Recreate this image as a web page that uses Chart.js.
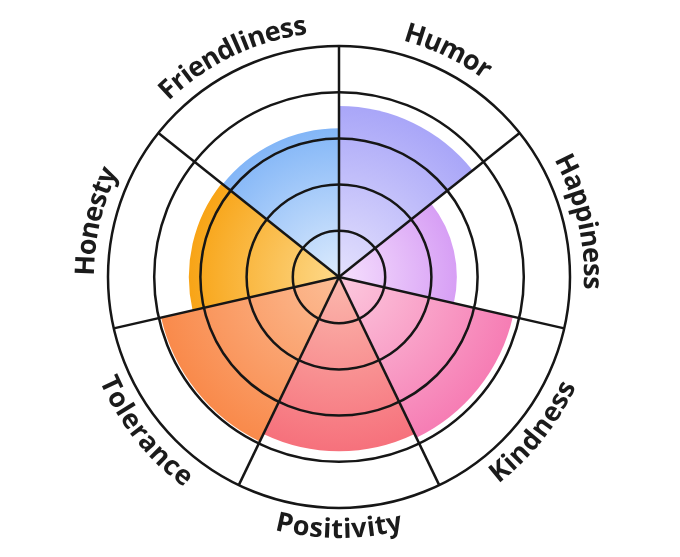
<!DOCTYPE html>
<html>
<head>
<meta charset="utf-8">
<script src="https://cdn.jsdelivr.net/npm/chart.js@4/dist/chart.umd.min.js"></script>
<style>
  html, body { margin: 0; padding: 0; background: #fff; }
  canvas { display: block; }
</style>
</head>
<body>
<canvas id="wheel" width="680" height="557"></canvas>
<script>
// qualities, clockwise from the top
const traits = ['Humor', 'Happiness', 'Kindness', 'Positivity', 'Tolerance', 'Honesty', 'Friendliness'];
const scores = [3.7, 2.55, 3.86, 3.77, 3.95, 3.25, 3.22];
const ringSteps = [1, 2, 3, 4, 5];

// outer (edge) and inner (center) colour of each wedge
const edgeColors = ['#a9a6f8', '#d79ff5', '#f67db4', '#f6717c', '#f98a4b', '#f8a416', '#83b6f7'];
const coreColors = ['#e4e1fd', '#f6e0fd', '#fcc9de', '#fbb8ad', '#fcbd96', '#fdd98a', '#dcebfd'];

function wedgeFill(c) {
    const chart = c.chart;
    const s = chart.scales.r;
    const i = c.dataIndex;
    if (!s || c.type !== 'data' || !isFinite(s.xCenter) || !isFinite(s.yCenter)) return edgeColors[i];
    const rad = s.getDistanceFromCenterForValue(scores[i]);
    if (!isFinite(rad) || rad <= 0) return edgeColors[i];
    const g = chart.ctx.createRadialGradient(s.xCenter, s.yCenter, 0, s.xCenter, s.yCenter, rad);
    g.addColorStop(0, coreColors[i]);
    g.addColorStop(1, edgeColors[i]);
    return g;
}

// labels bent along the outer ring
const curvedLabels = {
    id: 'curvedLabels',
    afterDraw(chart) {
        const s = chart.scales.r;
        const ctx = chart.ctx;
        const n = chart.data.labels.length;
        const outer = s.drawingArea;
        ctx.save();
        ctx.font = 'bold 27px "Open Sans"';
        ctx.fillStyle = '#1b1b1b';
        ctx.textAlign = 'center';
        ctx.textBaseline = 'alphabetic';
        chart.data.labels.forEach((text, i) => {
            const mid = s.getIndexAngle(i) - Math.PI / 2 + Math.PI / n;
            const flip = Math.sin(mid) > 0.05;
            const baseR = flip ? outer + 30 : outer + 14;
            const advR = flip ? baseR - 10 : baseR + 10;
            const chars = [...text];
            const widths = chars.map(ch => ctx.measureText(ch).width);
            const total = widths.reduce((a, b) => a + b, 0);
            const dir = flip ? -1 : 1;
            let a = mid - dir * total / 2 / advR;
            chars.forEach((ch, k) => {
                const ca = a + dir * widths[k] / 2 / advR;
                ctx.save();
                ctx.translate(s.xCenter + baseR * Math.cos(ca), s.yCenter + baseR * Math.sin(ca));
                ctx.rotate(ca + dir * Math.PI / 2);
                ctx.fillText(ch, 0, 0);
                ctx.restore();
                a += dir * widths[k] / advR;
            });
        });
        ctx.restore();
    }
};

new Chart(document.getElementById('wheel'), {
    type: 'polarArea',
    data: {
        labels: traits,
        datasets: [{
            data: scores,
            backgroundColor: wedgeFill,
            borderWidth: 0
        }]
    },
    options: {
        responsive: false,
        animation: false,
        layout: { padding: { left: 108, right: 110, top: 46, bottom: 49 } },
        plugins: {
            legend: { display: false },
            tooltip: { enabled: false }
        },
        scales: {
            r: {
                min: 0,
                max: ringSteps[ringSteps.length - 1],
                ticks: { display: false, stepSize: ringSteps[1] - ringSteps[0] },
                grid: { circular: true, color: '#161616', lineWidth: 2.5, z: 1 },
                angleLines: { display: true, color: '#161616', lineWidth: 2.5 },
                pointLabels: { display: false }
            }
        }
    },
    plugins: [curvedLabels]
});
</script>
</body>
</html>
